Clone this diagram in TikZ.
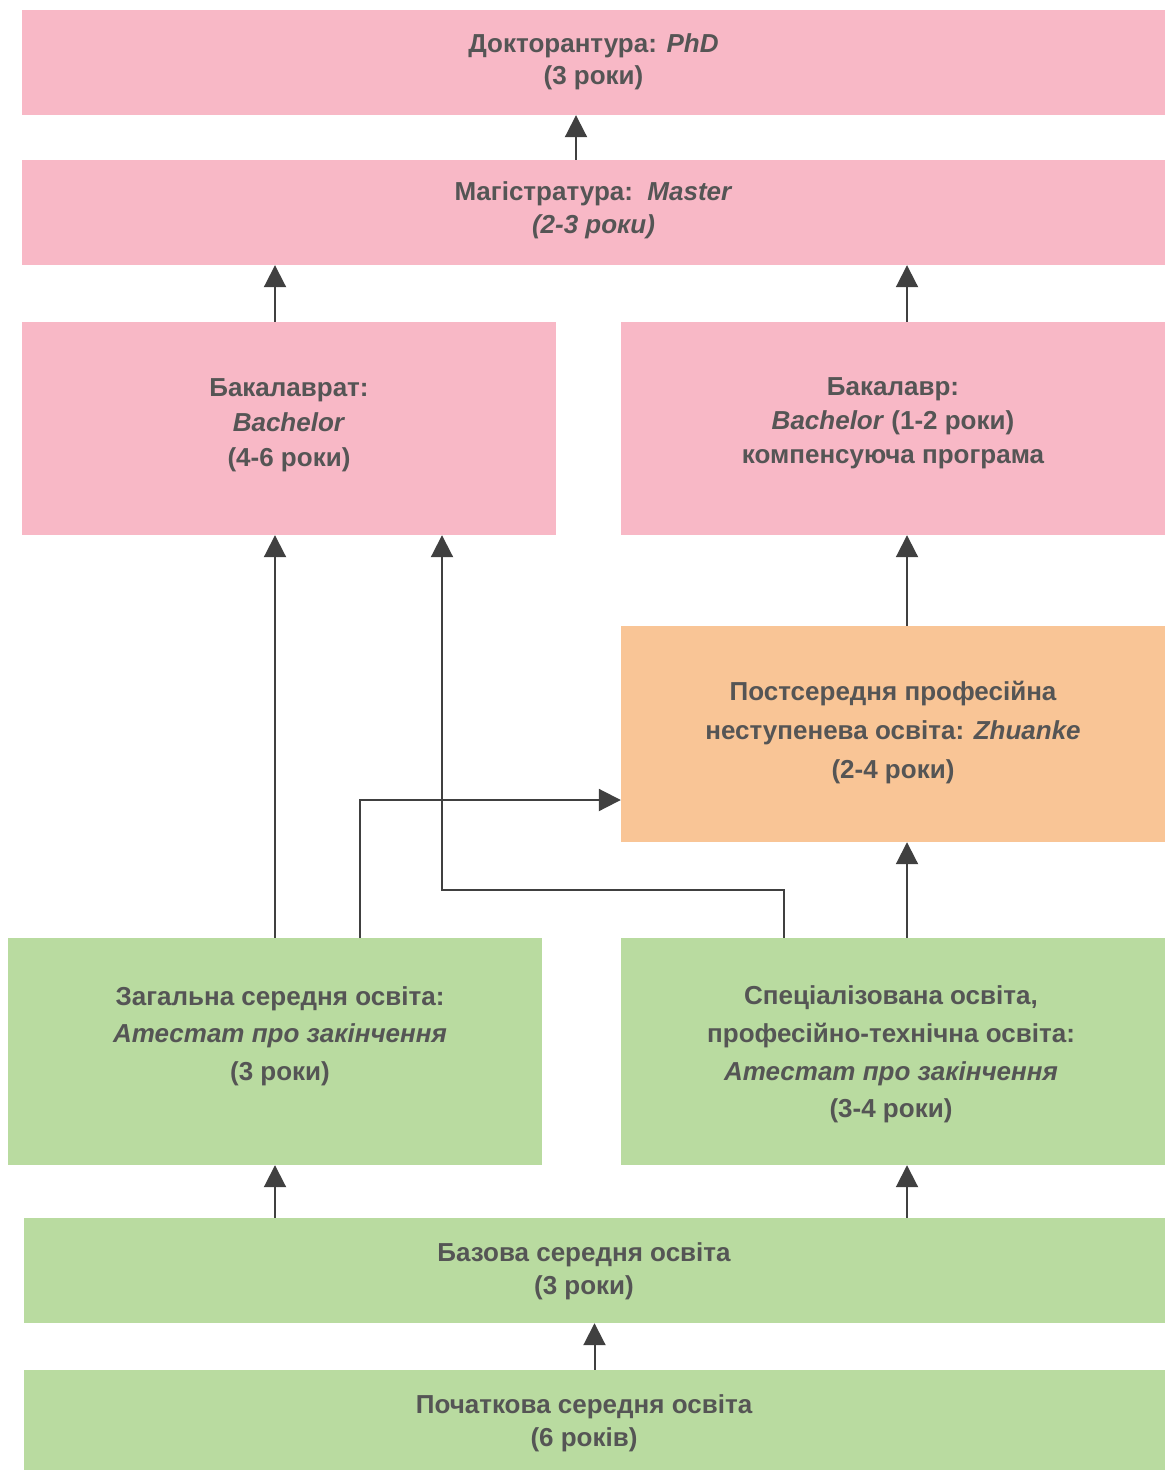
\documentclass[tikz,border=0pt]{standalone}
\usepackage{fontspec}
\setmainfont{Liberation Sans}
\usetikzlibrary{arrows.meta}
\definecolor{pinkbox}{RGB}{248,184,198}
\definecolor{greenbox}{RGB}{185,219,160}
\definecolor{orangebox}{RGB}{249,197,150}
\definecolor{txt}{RGB}{85,85,85}
\definecolor{linecol}{RGB}{64,64,64}
\begin{document}
\begin{tikzpicture}[x=1pt,y=-1pt,
  box/.style={fill=#1, draw=none, inner sep=0pt},
  lbl/.style={inner sep=0pt, align=center, text=txt,
    font=\fontsize{26}{#1}\selectfont\bfseries},
  conn/.style={draw=linecol, line width=2pt, -{Triangle[width=22pt,length=22pt]}}]
\fill[white] (0,0) rectangle (1168,1470);
\useasboundingbox (0,0) rectangle (1168,1470);

\node[box=pinkbox, minimum width=1143, minimum height=105] (phd) at (593.5,62.5) {};
\node[lbl=32] (phdt) at (593.5,61.5) {Докторантура: \textit{PhD}\\(3 роки)};

\node[box=pinkbox, minimum width=1143, minimum height=105] (master) at (593.5,212.5) {};
\node[lbl=33] (mastert) at (593.5,210.5) {Магістратура:\ \ \textit{Master}\\\textit{(2-3 роки)}};

\node[box=pinkbox, minimum width=534, minimum height=213] (bachL) at (289,428.5) {};
\node[lbl=35] (bachLt) at (289,425) {Бакалаврат:\\\textit{Bachelor}\\(4-6 роки)};

\node[box=pinkbox, minimum width=544, minimum height=213] (bachR) at (893,428.5) {};
\node[lbl=34] (bachRt) at (893,423) {Бакалавр:\\\textit{Bachelor} (1-2 роки)\\компенсуюча програма};

\node[box=orangebox, minimum width=544, minimum height=216] (zhu) at (893,734) {};
\node[lbl=39] (zhut) at (893,733) {Постсередня професійна\\неступенева освіта: \textit{Zhuanke}\\(2-4 роки)};

\node[box=greenbox, minimum width=534, minimum height=227] (gen) at (275,1051.5) {};
\node[lbl=37.5] (gent) at (280,1036) {Загальна середня освіта:\\\textit{Атестат про закінчення}\\(3 роки)};

\node[box=greenbox, minimum width=544, minimum height=227] (spec) at (893,1051.5) {};
\node[lbl=37.7] (spect) at (891,1054.5) {Спеціалізована освіта,\\професійно-технічна освіта:\\\textit{Атестат про закінчення}\\(3-4 роки)};

\node[box=greenbox, minimum width=1141, minimum height=105] (basic) at (594.5,1270.5) {};
\node[lbl=33] (basict) at (584,1271.5) {Базова середня освіта\\(3 роки)};

\node[box=greenbox, minimum width=1141, minimum height=100] (prim) at (594.5,1420) {};
\node[lbl=33] (primt) at (584,1423.5) {Початкова середня освіта\\(6 років)};

\draw[conn] ([xshift=-17.5pt]master.north) -- ([xshift=-17.5pt]master.north |- phd.south);
\draw[conn] ([xshift=-14pt]bachL.north) -- ([xshift=-14pt]bachL.north |- master.south);
\draw[conn] ([xshift=14pt]bachR.north) -- ([xshift=14pt]bachR.north |- master.south);
\draw[conn] (gen.north) -- (gen.north |- bachL.south);
\draw[conn] ([xshift=-109pt]spec.north) -- ++(0,-48) -| ([xshift=153pt]bachL.south);
\draw[conn] ([xshift=85pt]gen.north) |- ([yshift=-66pt]zhu.west);
\draw[conn] ([xshift=14pt]spec.north) -- ([xshift=14pt]spec.north |- zhu.south);
\draw[conn] ([xshift=14pt]zhu.north) -- ([xshift=14pt]zhu.north |- bachR.south);
\draw[conn] (basic.north -| gen.south) -- (gen.south);
\draw[conn] ([xshift=14pt]spec.south |- basic.north) -- ([xshift=14pt]spec.south);
\draw[conn] (prim.north) -- (prim.north |- basic.south);
\end{tikzpicture}
\end{document}
